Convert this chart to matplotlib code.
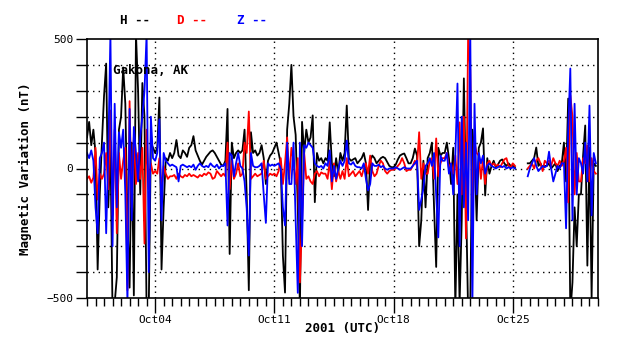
import numpy as np
import matplotlib.pyplot as plt

nan = np.nan

# 3-hourly samples, day 0 = Sep 30 00:00 UTC, 8 samples per day
h_vals = [
    120, 180, 90, 150, 60, -390, -100, 100,
    280, 405, -150, 100, -560, -520, -420, 150,
    200, 390, 250, -200, -460, 100, -490, 520,
    300, -100, 330, 200, -560, -540, 100, 80,
    60, 80, 274, -390, -150, 40, 30, 60,
    40, 60, 110, 50, 40, 70, 60, 45,
    80, 90, 125, 70, 50, 30, 15, 30,
    45, 55, 65, 70, 60, 45, 30, 15,
    10, 30, 230, -330, 100, 40, 60, 70,
    60, 70, 150, -100, -470, 140, 60, 70,
    50, 60, 90, 40, -60, 30, 50, 60,
    80, 100, 60, 20, -336, -479, 150, 250,
    400, 200, 130, -150, -540, 180, 60, 150,
    100, 120, 205, -130, 60, 30, 40, 20,
    40, 30, 178, 20, -30, 40, -20, 60,
    30, 60, 243, 40, 30, 35, 40, 20,
    30, 40, 60, 20, -160, 30, 50, 40,
    20, 30, 40, 45, 40, 25, 10, 5,
    5, 15, 35, 50, 55, 58, 40, 20,
    20, 40, 77, 50, -300, -200, 30, -150,
    40, 60, 100, -150, -380, 80, 50, 60,
    60, 100, 40, -60, 80, -540, -100, -520,
    -200, 348, -100, -560, -540, 150, 60, -200,
    80, 100, 155, -104, 40, -20, 10, 30,
    5, 15, 30, 35, 20, 10, 20, 10,
    10, 5, nan, nan, nan, nan, nan, 20,
    20, 30, 40, 81, 10, 20, 0, 10,
    10, 20, 0, 10, 20, -10, 10, 20,
    100, -50, 270, -560, -440, -150, -300, -100,
    -100, 50, 166, -375, 80, -498, 20, 10,
]

d_vals = [
    -40, -30, -55, -35, 80, -120, -20, -40,
    -20, 60, -80, 224, -180, 150, -250, 60,
    -40, 30, 80, -470, 260, -150, 120, -60,
    60, -40, 80, -290, 150, -80, 20, -20,
    -10, -20, 40, -80, 10, -20, -40, -30,
    -30, -25, -40, -20, -30, -35, -25, -30,
    -20, -30, -25, -30, -35, -25, -30, -20,
    -25, -15, -20, -40, -35, -10, -20, -30,
    -20, -30, 100, -80, 30, -40, -20, 20,
    -30, -20, 100, 60, 220, -40, -30, -20,
    -30, -25, -20, 30, -40, -30, -20, -25,
    -20, -30, -10, 40, -60, 20, 120, -40,
    80, 30, -60, 40, -440, -200, 60, -40,
    -30, -50, -60, -20, -10, -30, -15, -20,
    -20, -40, 30, -80, 20, -50, -10, -40,
    -10, -40, 40, -30, -20, -10, -30, -20,
    -10, -30, 0, 20, -20, 50, -10, -30,
    -20, 10, 30, 20, -10, -20, -10, -5,
    -5, 0, 10, 20, 40, 20, -10, -5,
    -5, 10, 30, 10, 140, -40, 20, -20,
    -20, 30, 40, -40, 116, -30, 20, 40,
    40, 60, 0, 20, -20, 50, -60, 178,
    -100, 200, -270, 520, 380, -200, 100, 60,
    50, -40, 40, -60, 20, 30, 10, 20,
    10, 15, 5, 20, 35, 40, 10, 5,
    20, 10, nan, nan, nan, nan, nan, 0,
    10, 20, 0, 30, 40, 20, -10, 30,
    20, 30, 10, 40, 20, 10, 30, 10,
    30, 80, -131, 282, 200, -100, 60, -50,
    -50, 40, 20, 89, -50, 40, -10, -20,
]

z_vals = [
    60, 40, 70, 30, -150, -250, 40, 60,
    100, -250, 60, 520, -300, 250, -150, 140,
    80, 150, -100, -520, 230, -200, 160, 60,
    -50, 120, 200, 300, 520, -400, 200, 40,
    30, 60, 190, -200, 60, 30, 20, 10,
    15, 10, 5, -50, 10, 15, 10, 5,
    10, 5, 15, -5, 10, 20, 10, 5,
    10, 5, 20, 10, 5, 15, 0, 10,
    10, 20, -220, 60, 50, -30, 20, 60,
    10, 0, -50, -154, -336, 60, 10, 5,
    5, 10, 20, -100, -210, 20, 10, 15,
    10, 15, 20, 0, -150, -220, 100, -60,
    -60, 100, -200, -480, 100, -300, 90, 80,
    100, 90, 80, 20, 10, 5, 10, 0,
    20, 10, 70, -50, 10, -40, 0, 30,
    10, 30, 108, 20, 15, 25, 10, 5,
    5, 0, 20, -40, -85, -60, 20, 10,
    10, 15, 5, 10, 0, -5, 0, 0,
    0, 5, 0, -5, 0, 5, 0, 0,
    0, 10, 20, 30, -160, -120, -77, 10,
    20, 40, 10, 60, -100, -266, 50, 30,
    30, 60, -20, 20, -100, 50, 328, -300,
    200, -150, 100, -200, 540, -530, 250, -100,
    60, 20, 50, -20, 10, 20, 10, 5,
    0, 5, 10, 5, 10, 0, 5, 0,
    5, 0, nan, nan, nan, nan, nan, -30,
    0, 20, 40, 10, -10, 0, 10, 5,
    10, 65, 0, -50, -20, 10, 0, 20,
    20, -231, 150, 386, -200, 250, -100, 40,
    20, -20, 100, -50, 243, -181, 60, 20,
]

tick_days = [4, 11, 18, 25]
tick_labels = ['Oct04', 'Oct11', 'Oct18', 'Oct25']

plt.rcParams['font.family'] = 'DejaVu Sans Mono'

days = np.arange(len(h_vals)) / 8.0

fig = plt.figure(figsize=(6.38, 3.59), dpi=100)
ax = fig.add_axes([87/638, 1 - 298/359, 511/638, 259/359])

ax.plot(days, h_vals, color='black', lw=1.3)
ax.plot(days, d_vals, color='#ff0000', lw=1.3)
ax.plot(days, z_vals, color='#0000ff', lw=1.3)

ax.set_xlim(0, 30)
ax.set_ylim(-500, 500)

ax.set_yticks([-500, 0, 500])
ax.set_yticks(np.arange(-400, 500, 100), minor=True)
ax.set_xticks(tick_days)
ax.set_xticklabels(tick_labels)
ax.set_xticks(np.arange(0, 30.01, 0.5), minor=True)

ax.tick_params(axis='y', which='both', length=8, width=1, direction='out', pad=2, labelsize=8)
ax.tick_params(axis='x', which='major', length=11, width=1, direction='out', pad=1, labelsize=8)
ax.tick_params(axis='x', which='minor', length=6, width=1, direction='out')

for v in np.arange(-400, 500, 100):
    ax.axhline(v, color='black', lw=1, ls=(0, (1, 3)), zorder=0)
for t in tick_days:
    ax.axvline(t, color='black', lw=1, ls=(0, (1, 3)), zorder=0)

for s in ax.spines.values():
    s.set_linewidth(1.2)

ax.set_ylabel('Magnetic Variation (nT)', fontsize=9, fontweight='bold', labelpad=10)
ax.set_xlabel('2001 (UTC)', fontsize=9, fontweight='bold', labelpad=-2)

ax.text(0.05, 0.88, 'Gakona, AK', transform=ax.transAxes, fontsize=9,
        fontweight='bold', ha='left', va='center')

fig.text(135/638, 1 - 21/359, 'H --', color='black', fontsize=9, fontweight='bold', ha='center', va='center')
fig.text(192/638, 1 - 21/359, 'D --', color='#ff0000', fontsize=9, fontweight='bold', ha='center', va='center')
fig.text(252/638, 1 - 21/359, 'Z --', color='#0000ff', fontsize=9, fontweight='bold', ha='center', va='center')

fig.savefig('out.png', dpi=100)
